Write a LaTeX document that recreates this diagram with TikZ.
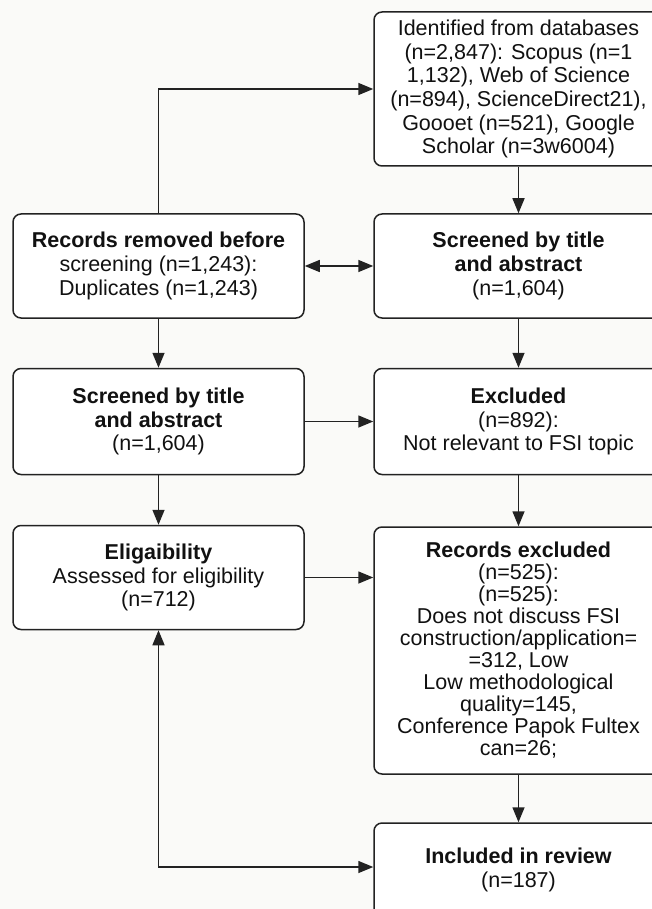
\documentclass[tikz,border=0pt]{standalone}
\usepackage{fontspec}
\setmainfont{Liberation Sans}
\usetikzlibrary{arrows.meta}
\definecolor{linec}{HTML}{222222}
\definecolor{bgc}{HTML}{FAFAF8}
\definecolor{txtc}{HTML}{111111}
\begin{document}
\begin{tikzpicture}[x=1pt,y=-1pt,
  box/.style={draw=linec, line width=1.5pt, rounded corners=8pt, fill=white,
    align=center, text=txtc, font=\fontsize{21.5}{23.7}\selectfont, inner sep=0pt},
  conn/.style={draw=linec, line width=1.5pt, -{Triangle[length=15pt,width=12pt]}},
  dconn/.style={draw=linec, line width=1.5pt, {Triangle[length=15pt,width=12pt]}-{Triangle[length=15pt,width=12pt]}}]
\useasboundingbox (0,0) rectangle (652,909);
\fill[bgc] (0,0) rectangle (652,909);

\node[box, minimum width=289pt, minimum height=154pt] (R0) at (518.5,89)
  {Identified from databases\\(n=2,847): Scopus (n=1\\1,132), Web of Science\\(n=894), ScienceDirect21),\\Goooet (n=521), Google\\Scholar (n=3w6004)};
\node[box, minimum width=291pt, minimum height=104pt] (L1) at (158.5,266)
  {\textbf{Records removed before}\\screening (n=1,243):\\Duplicates (n=1,243)};
\node[box, minimum width=289pt, minimum height=104pt] (R1) at (518.5,266)
  {\textbf{Screened by title}\\\textbf{and abstract}\\(n=1,604)};
\node[box, minimum width=291pt, minimum height=106pt] (L2) at (158.5,421.5)
  {\textbf{Screened by title}\\\textbf{and abstract}\\(n=1,604)};
\node[box, minimum width=289pt, minimum height=106pt] (R2) at (518.5,421.5)
  {\textbf{Excluded}\\(n=892):\\Not relevant to FSI topic};
\node[box, minimum width=291pt, minimum height=104pt] (L3) at (158.5,577.5)
  {\textbf{Eligaibility}\\Assessed for eligibility\\(n=712)};
\node[box, minimum width=289pt, minimum height=247pt, font=\fontsize{21.5}{22}\selectfont] (R3) at (518.5,650.5)
  {\textbf{Records excluded}\\(n=525):\\(n=525):\\Does not discuss FSI\\construction/application=\\=312, Low\\Low methodological\\quality=145,\\Conference Papok Fultex\\can=26;};
\node[box, minimum width=289pt, minimum height=94pt] (R4) at (518.5,870)
  {\textbf{Included in review}\\(n=187)};

\coordinate (c2) at (158.5,867);

\draw[conn] (L1.north) |- (R0.west);
\draw[dconn] (L1.east) -- (R1.west);
\draw[conn] (R0.south) -- (R1.north);
\draw[conn] (L1.south) -- (L2.north);
\draw[conn] (R1.south) -- (R2.north);
\draw[conn] (L2.east) -- (R2.west);
\draw[conn] (L2.south) -- (L3.north);
\draw[conn] (R2.south) -- (R3.north);
\draw[conn] (L3.east) -- (L3.east -| R3.west);
\draw[conn] (R3.south) -- (R4.north);
\draw[dconn] (L3.south) -- (c2) -- (c2 -| R4.west);
\end{tikzpicture}
\end{document}
